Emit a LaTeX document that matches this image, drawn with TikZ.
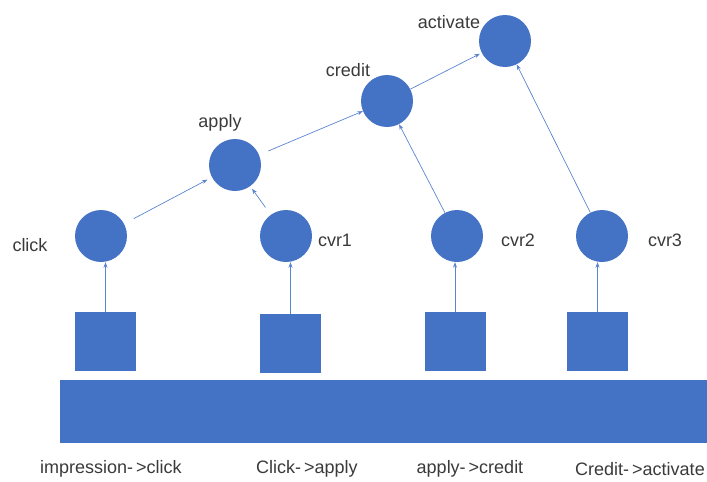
\documentclass[tikz,border=0pt]{standalone}
\usepackage{fontspec}
\setmainfont{Liberation Sans}
\usetikzlibrary{arrows.meta,calc}
\definecolor{nodeblue}{HTML}{4472C4}
\definecolor{linkblue}{HTML}{5B84CF}
\definecolor{txtgray}{HTML}{3A3A3A}
\newcommand{\arrowtxt}{-\kern3pt>}
\begin{document}
\begin{tikzpicture}[x=1pt,y=-1pt,
  ball/.style={circle,fill=nodeblue,minimum size=52pt,inner sep=0pt},
  block/.style={rectangle,fill=nodeblue,minimum width=61pt,minimum height=59pt,inner sep=0pt},
  lbl/.style={text=txtgray,font=\fontsize{18}{20}\selectfont,inner sep=0pt},
  link/.style={draw=linkblue,line width=0.7pt,-{Stealth[length=5.5pt,width=4pt]}}]
\useasboundingbox (0,0) rectangle (707,482);
% circles
\node[ball] (activate) at (505,41) {};
\node[ball] (credit) at (387,101) {};
\node[ball] (apply) at (235,165) {};
\node[ball] (click) at (101,236) {};
\node[ball] (cvr1) at (286,236) {};
\node[ball] (cvr2) at (457,236) {};
\node[ball] (cvr3) at (602,236) {};
% labels
\node[lbl] (lactivate) at (449,22) {activate};
\node[lbl] (lcredit) at (348,70) {credit};
\node[lbl] (lapply) at (220,123) {apply};
\node[lbl] (lclick) at (30,245) {click};
\node[lbl] (lcvr1) at (335,240) {cvr1};
\node[lbl] (lcvr2) at (518,240) {cvr2};
\node[lbl] (lcvr3) at (665,240) {cvr3};
% squares and bar
\node[block] (sq1) at (105.5,341.5) {};
\node[block] (sq2) at (290.5,343.5) {};
\node[block] (sq3) at (455,341.5) {};
\node[block] (sq4) at (597.5,341.5) {};
\node[rectangle,fill=nodeblue,minimum width=647pt,minimum height=63pt,inner sep=0pt] (bar) at (383.5,411.5) {};
% bottom labels
\node[lbl] (t1) at (111,469) {impression\arrowtxt click};
\node[lbl] (t2) at (307,469) {Click\arrowtxt apply};
\node[lbl] (t3) at (470,469) {apply\arrowtxt credit};
\node[lbl] (t4) at (640,469) {Credit\arrowtxt activate};
% vertical connectors
\draw[link] (sq1.north) -- (sq1.north |- click.south);
\draw[link] (sq2.north) -- (sq2.north |- cvr1.south);
\draw[link] (sq3.north) -- (sq3.north |- cvr2.south);
\draw[link] (sq4.north) -- (sq4.north |- cvr3.south);
% tree connectors
\draw[link,shorten <=11pt,shorten >=5pt] (click) -- (apply);
\draw[link,shorten <=9pt,shorten >=3pt] (cvr1) -- (apply);
\draw[link,shorten <=10pt] (apply) -- (credit);
\draw[link] (cvr2) -- (credit);
\draw[link,shorten >=2pt] (credit) -- (activate);
\draw[link] (cvr3) -- (activate);
\end{tikzpicture}
\end{document}
